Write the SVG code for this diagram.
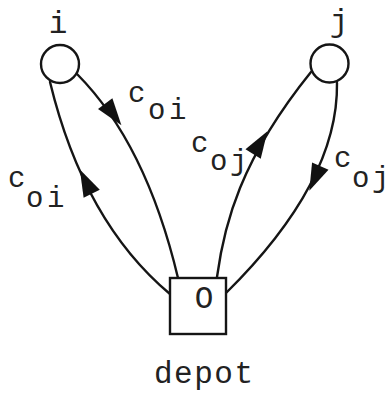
<svg xmlns="http://www.w3.org/2000/svg" width="392" height="393" viewBox="0 0 392 393">
  <style>
    .edge { fill: none; stroke: #151515; stroke-width: 2.4; stroke-linecap: round; }
    .node { fill: #fff; stroke: #151515; stroke-width: 2.4; }
    .head { fill: #111; }
    text { font-family: "Liberation Mono", "DejaVu Sans Mono", monospace; fill: #222; }
    .lbl { font-size: 29px; }
    .big { font-size: 31px; }
  </style>
  <defs>
    <path id="arrowhead" class="head" d="M14,0 L-13,-9 L-13,9 Z"/>
  </defs>
  <rect width="392" height="393" fill="#fff"/>

  <g id="connectors">
    <!-- depot to i (outer, returning toward i) -->
    <path class="edge" d="M170,294 Q84,222 50,82"/>
    <!-- i to depot (inner) -->
    <path class="edge" d="M77,74 Q146,143.5 178,278"/>
    <!-- depot to j (inner) -->
    <path class="edge" d="M217,277 C224,225 240,160 311,72"/>
    <!-- j to depot (outer) -->
    <path class="edge" d="M337,83 Q338.5,182 226,293"/>
    <use href="#arrowhead" transform="translate(86,182) rotate(-116)"/>
    <use href="#arrowhead" transform="translate(113,114) rotate(53)"/>
    <use href="#arrowhead" transform="translate(260,143) rotate(-58)"/>
    <use href="#arrowhead" transform="translate(315,178) rotate(114)"/>
  </g>

  <g id="node-i">
    <circle class="node" cx="60" cy="64" r="19"/>
    <text class="big" x="58" y="33" text-anchor="middle">i</text>
  </g>

  <g id="node-j">
    <circle class="node" cx="329.5" cy="63.5" r="19"/>
    <text class="big" x="339" y="31" text-anchor="middle">j</text>
  </g>

  <g id="node-depot">
    <rect class="node" x="170" y="278" width="56" height="56"/>
    <text class="big" x="204" y="308" text-anchor="middle">O</text>
    <text class="big" x="154" y="383" letter-spacing="1.5">depot</text>
  </g>

  <g id="edge-labels">
    <text class="lbl" x="8" y="187">c<tspan x="26 47" y="207">oi</tspan></text>
    <text class="lbl" x="128" y="102">c<tspan x="148 169" y="119">oi</tspan></text>
    <text class="lbl" x="191" y="152">c<tspan x="210 230" y="170">oj</tspan></text>
    <text class="lbl" x="334" y="167">c<tspan x="352 372" y="187">oj</tspan></text>
  </g>
</svg>
